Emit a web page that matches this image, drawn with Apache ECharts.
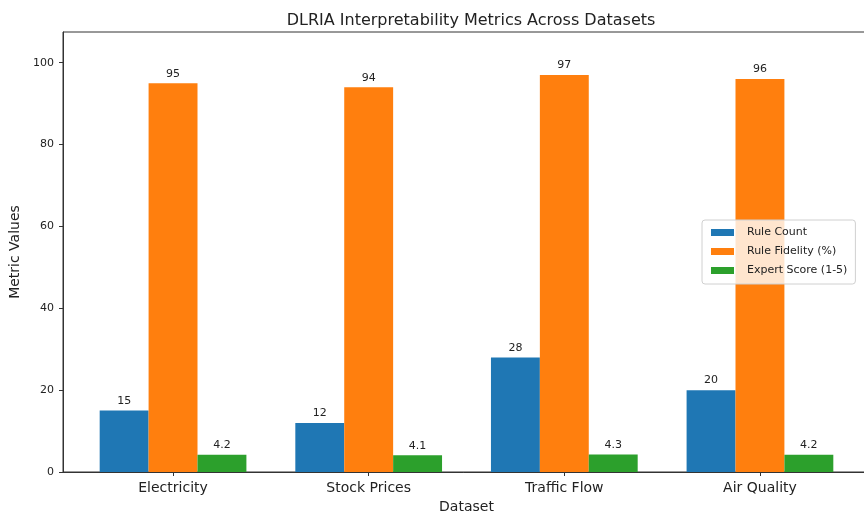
<!DOCTYPE html>
<html>
<head>
<meta charset="utf-8">
<script src="https://cdn.jsdelivr.net/npm/echarts@6/dist/echarts.min.js"></script>
<style>
html,body{margin:0;padding:0;background:#fff;}
#chart{width:864px;height:516px;}
</style>
</head>
<body>
<div id="chart"></div>
<script>
const categories = ['Electricity', 'Stock Prices', 'Traffic Flow', 'Air Quality'];
const ruleCount = [15, 12, 28, 20];
const ruleFidelity = [95, 94, 97, 96];
const expertScore = [4.2, 4.1, 4.3, 4.2];
const yTicks = [0, 20, 40, 60, 80, 100];
const seriesNames = ['Rule Count', 'Rule Fidelity (%)', 'Expert Score (1-5)'];
const colors = ['#1f77b4', '#ff7f0e', '#2ca02c'];

const FONT = 'DejaVu Sans';
const chart = echarts.init(document.getElementById('chart'), null, {renderer: 'canvas'});
const xIdx = categories.map((c, i) => i);

function mkSeries(name, vals, color) {
  return {
    name: name,
    type: 'bar',
    data: vals.map((v, i) => [xIdx[i], v]),
    itemStyle: {color: color},
    barGap: '0%',
    barCategoryGap: '25%',
    label: {
      show: true, position: 'top', distance: 4,
      fontFamily: FONT, fontSize: 11, color: '#222',
      formatter: p => String(p.value[1])
    },
    emphasis: {disabled: true}
  };
}

chart.setOption({
  animation: false,
  backgroundColor: '#fff',
  title: {
    text: 'DLRIA Interpretability Metrics Across Datasets',
    left: 466, top: 8, textAlign: 'center',
    textStyle: {fontFamily: FONT, fontSize: 16, fontWeight: 'normal', color: '#222'}
  },
  grid: {
    left: 63, top: 32, width: 807, height: 440,
    outerBoundsMode: 'none', containLabel: false,
    show: true, borderColor: '#333', borderWidth: 1, backgroundColor: 'transparent'
  },
  legend: {
    orient: 'vertical',
    left: 702, top: 220,
    data: seriesNames,
    icon: 'rect', itemWidth: 23, itemHeight: 7, itemGap: 8,
    padding: [7, 8, 8, 9],
    backgroundColor: 'rgba(255,255,255,0.8)',
    borderColor: '#d0d0d0', borderWidth: 1, borderRadius: 3,
    textStyle: {fontFamily: FONT, fontSize: 11, color: '#222', padding: [0, 0, 0, 8]}
  },
  xAxis: {
    type: 'value',
    min: -0.5625, max: 3.5625,
    name: 'Dataset', nameLocation: 'middle', nameGap: 28,
    nameTextStyle: {fontFamily: FONT, fontSize: 14, color: '#222'},
    axisLine: {show: true, onZero: false, lineStyle: {color: '#333'}},
    axisTick: {show: true, length: 4, lineStyle: {color: '#333'}, customValues: xIdx},
    axisLabel: {
      fontFamily: FONT, fontSize: 14, color: '#222', margin: 9,
      customValues: xIdx,
      formatter: v => categories[Math.round(v)] || ''
    },
    splitLine: {show: false}
  },
  yAxis: {
    type: 'value',
    min: 0, max: 107.5,
    name: 'Metric Values', nameLocation: 'middle', nameGap: 39,
    nameTextStyle: {fontFamily: FONT, fontSize: 14, color: '#222'},
    axisLine: {show: true, onZero: false, lineStyle: {color: '#333'}},
    axisTick: {show: true, length: 4, lineStyle: {color: '#333'}, customValues: yTicks},
    axisLabel: {fontFamily: FONT, fontSize: 11, color: '#222', margin: 9, customValues: yTicks},
    splitLine: {show: false}
  },
  series: [
    mkSeries(seriesNames[0], ruleCount, colors[0]),
    mkSeries(seriesNames[1], ruleFidelity, colors[1]),
    mkSeries(seriesNames[2], expertScore, colors[2])
  ]
});
</script>
</body>
</html>
